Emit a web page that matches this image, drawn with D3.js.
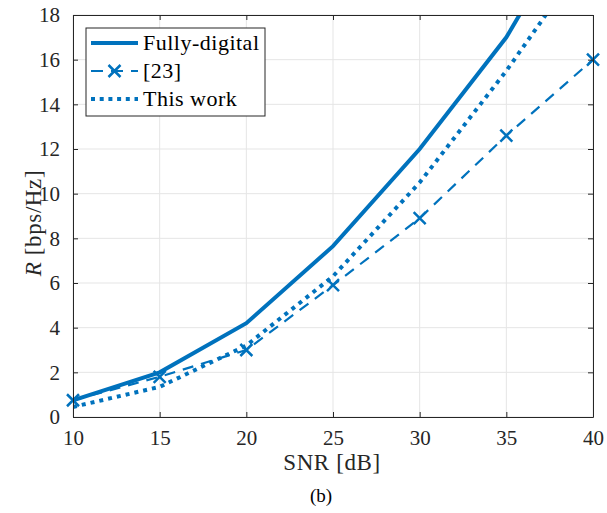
<!DOCTYPE html>
<html><head><meta charset="utf-8">
<script src="https://cdn.jsdelivr.net/npm/d3@7"></script>
<style>body{margin:0;background:#fff}svg{display:block}text{font-family:"Liberation Serif",serif}</style>
</head><body><svg id="c" width="607" height="513"></svg>
<script>
const snr = [10, 15, 20, 25, 30, 35, 40];
const fullyDigital = [0.75, 2.0, 4.2, 7.65, 12.0, 17.0, 23.6];
const ref23 = [0.75, 1.8, 3.0, 5.9, 8.9, 12.6, 16.0];
const thisWork = [0.45, 1.35, 3.2, 6.3, 10.5, 15.5, 21.0];
const xTicks = [10, 15, 20, 25, 30, 35, 40];
const yTicks = [0, 2, 4, 6, 8, 10, 12, 14, 16, 18];
const legendLabels = ["Fully-digital", "[23]", "This work"];

const svg = d3.select("#c");
const m = {l: 73, t: 15, r: 593, b: 417};
const x = d3.scaleLinear().domain([10, 40]).range([m.l, m.r]);
const y = d3.scaleLinear().domain([0, 18]).range([m.b, m.t]);
const col = "#0072BD", axc = "#262626", font = "Liberation Serif";

// grid
svg.append("g").selectAll("line").data(xTicks).join("line")
  .attr("x1", d => x(d)).attr("x2", d => x(d)).attr("y1", m.t).attr("y2", m.b)
  .attr("stroke", "#e5e5e5").attr("stroke-width", 1);
svg.append("g").selectAll("line").data(yTicks).join("line")
  .attr("y1", d => y(d)).attr("y2", d => y(d)).attr("x1", m.l).attr("x2", m.r)
  .attr("stroke", "#e5e5e5").attr("stroke-width", 1);

svg.append("defs").append("clipPath").attr("id", "clip").append("rect")
  .attr("x", m.l).attr("y", m.t).attr("width", m.r - m.l).attr("height", m.b - m.t);

const line = d3.line().x((d, i) => x(snr[i])).y(d => y(d));
const pg = svg.append("g").attr("clip-path", "url(#clip)");
pg.append("path").attr("d", line(fullyDigital)).attr("fill", "none").attr("stroke", col).attr("stroke-width", 4);
pg.append("path").attr("d", line(ref23)).attr("fill", "none").attr("stroke", col).attr("stroke-width", 2.2).attr("stroke-dasharray", "11,8");
pg.append("path").attr("d", line(thisWork)).attr("fill", "none").attr("stroke", col).attr("stroke-width", 4).attr("stroke-dasharray", "4,5");

const xMark = (g, cx, cy) => {
  const s = 6;
  g.append("path").attr("d", `M${cx - s},${cy - s}L${cx + s},${cy + s}M${cx - s},${cy + s}L${cx + s},${cy - s}`)
    .attr("stroke", col).attr("stroke-width", 2.5).attr("fill", "none");
};
const mg = svg.append("g");
ref23.forEach((v, i) => xMark(mg, x(snr[i]), y(v)));

// axes (MATLAB box style, inward ticks)
const xa = d3.axisBottom(x).tickValues(xTicks).tickSizeInner(-5).tickSizeOuter(0).tickPadding(13);
const ya = d3.axisLeft(y).tickValues(yTicks).tickSizeInner(-5).tickSizeOuter(0).tickPadding(13);
const xt = d3.axisTop(x).tickValues(xTicks).tickSizeInner(-5).tickSizeOuter(0).tickFormat("");
const yr = d3.axisRight(y).tickValues(yTicks).tickSizeInner(-5).tickSizeOuter(0).tickFormat("");
const style = g => {
  g.attr("font-family", font).attr("font-size", 21);
  g.selectAll("path,line").attr("stroke", axc);
  g.selectAll("text").attr("fill", axc).style("font-family", font).style("font-size", "21px");
};
svg.append("g").attr("transform", `translate(0,${m.b})`).call(xa).call(style);
svg.append("g").attr("transform", `translate(${m.l},0)`).call(ya).call(style);
svg.append("g").attr("transform", `translate(0,${m.t})`).call(xt).call(style);
svg.append("g").attr("transform", `translate(${m.r},0)`).call(yr).call(style);

// axis labels
svg.append("text").attr("x", 332).attr("y", 470).attr("text-anchor", "middle")
  .style("font-family", font).style("font-size", "23px").style("letter-spacing", "0.6px").attr("fill", axc).text("SNR [dB]");
const yl = svg.append("text").attr("transform", `translate(41,223) rotate(-90)`).attr("text-anchor", "middle")
  .style("font-family", font).style("font-size", "23px").style("letter-spacing", "0.6px").attr("fill", axc);
yl.append("tspan").style("font-style", "italic").text("R");
yl.append("tspan").text(" [bps/Hz]");
svg.append("text").attr("x", 321).attr("y", 502).attr("text-anchor", "middle")
  .style("font-family", font).style("font-size", "19px").attr("fill", "#000").text("(b)");

// legend
const lg = svg.append("g");
lg.append("rect").attr("x", 86).attr("y", 28).attr("width", 179).attr("height", 88)
  .attr("fill", "#fff").attr("stroke", axc).attr("stroke-width", 1);
const rows = [43, 71, 99];
const styles = [
  {w: 4, da: null}, {w: 2.2, da: "12,8"}, {w: 4, da: "4,4.7"}
];
legendLabels.forEach((t, i) => {
  const ry = rows[i];
  const ln = lg.append("line").attr("x1", 91).attr("x2", 138).attr("y1", ry).attr("y2", ry)
    .attr("stroke", col).attr("stroke-width", styles[i].w);
  if (styles[i].da) ln.attr("stroke-dasharray", styles[i].da);
  if (i === 1) xMark(lg, 114.5, ry);
  lg.append("text").attr("x", 143).attr("y", ry + 6.5).style("font-family", font).style("font-size", "22px")
    .style("letter-spacing", "0.5px").attr("fill", "#000").text(t);
});
</script></body></html>
